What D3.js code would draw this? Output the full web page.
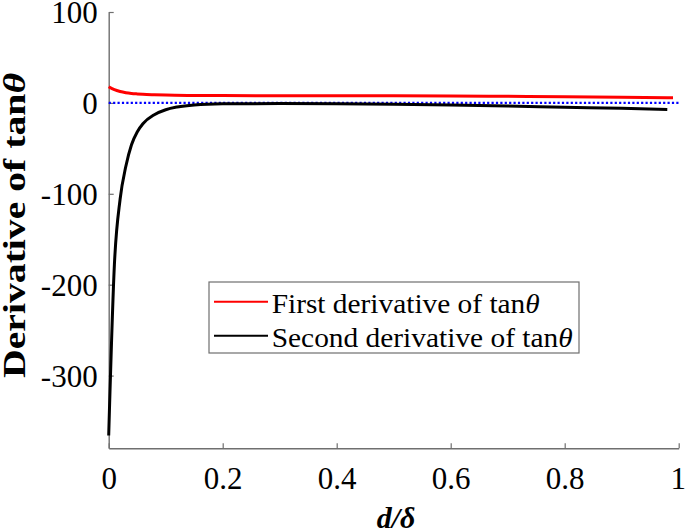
<!DOCTYPE html>
<html><head><meta charset="utf-8">
<script src="https://cdn.jsdelivr.net/npm/d3@7"></script>
<style>body{margin:0;background:#fff}svg{display:block}</style>
</head><body>
<svg id="c" width="685" height="532" font-family="Liberation Serif"></svg>
<script>
const xTicks = [0, 0.2, 0.4, 0.6, 0.8, 1];
const yTicks = [100, 0, -100, -200, -300];
const firstX  = [0, 0.01, 0.02, 0.03, 0.04, 0.05, 0.06, 0.08, 0.1, 0.15, 0.2, 0.3, 0.4, 0.5, 0.6, 0.7, 0.8, 0.9, 0.99];
const firstY  = [17.8, 14.5, 12.5, 11.2, 10.4, 9.9, 9.5, 9.0, 8.6, 8.2, 8.0, 7.9, 7.9, 7.8, 7.6, 7.2, 6.8, 6.3, 5.7];
const secondX = [0, 0.01, 0.02, 0.03, 0.04, 0.05, 0.06, 0.08, 0.1, 0.12, 0.15, 0.2, 0.3, 0.4, 0.5, 0.6, 0.7, 0.8, 0.9, 0.98];
const secondY = [-366, -178, -106, -70, -46, -32, -23, -13, -7.5, -4.5, -2.2, -1, -0.7, -1, -1.6, -2.4, -3.5, -4.8, -6, -7.2];
const zeroX = [0, 1];
const zeroY = [0, 0];
const legendLabels = ["First derivative of tan", "Second derivative of tan"];

const FONT = "Liberation Serif";
const svg = d3.select("#c");
const x = d3.scaleLinear().domain([0, 1]).range([108.7, 678.7]);
const y = d3.scaleLinear().domain([-380, 100]).range([448.3, 12]);
const axisColor = "#6f6f6f";

// axes
const xAxis = svg.append("g").attr("transform", `translate(0,${y(-380)})`)
  .call(d3.axisBottom(x).tickValues(xTicks).tickSizeInner(-5).tickSizeOuter(0).tickPadding(0).tickFormat(d3.format("")));
xAxis.attr("font-family", FONT);
xAxis.select(".domain").attr("stroke", axisColor).attr("stroke-width", 1.4);
xAxis.selectAll(".tick line").attr("stroke", axisColor).attr("stroke-width", 1.2);
xAxis.selectAll(".tick text").attr("font-size", 31).attr("fill", "#000").attr("y", 0).attr("dy", 0)
  .attr("transform", "translate(0,41)");
xAxis.selectAll(".tick").filter(d => d === 1).select("text").attr("transform", "translate(-1,41)");

const yAxis = svg.append("g").attr("transform", `translate(${x(0)},0)`)
  .call(d3.axisLeft(y).tickValues(yTicks).tickSizeInner(-5).tickSizeOuter(0).tickPadding(0).tickFormat(d => d3.format("")(d).replace("−", "-")));
yAxis.attr("font-family", FONT);
yAxis.select(".domain").attr("stroke", axisColor).attr("stroke-width", 1.4);
yAxis.selectAll(".tick line").attr("stroke", axisColor).attr("stroke-width", 1.2);
yAxis.selectAll(".tick text").attr("font-size", 31).attr("fill", "#000").attr("x", -11).attr("dy", "0.35em");

// lines
const line = d3.line().x(d => x(d[0])).y(d => y(d[1])).curve(d3.curveMonotoneX);
svg.append("path").datum(d3.zip(zeroX, zeroY)).attr("d", d3.line().x(d => x(d[0])).y(d => y(d[1])))
  .attr("fill", "none").attr("stroke", "#0000ff").attr("stroke-width", 2.3).attr("stroke-dasharray", "2.2,2.2");
svg.append("path").datum(d3.zip(firstX, firstY)).attr("d", line)
  .attr("fill", "none").attr("stroke", "#ff0000").attr("stroke-width", 3);
svg.append("path").datum(d3.zip(secondX, secondY)).attr("d", line)
  .attr("fill", "none").attr("stroke", "#000").attr("stroke-width", 3);

// legend
const lg = svg.append("g");
lg.append("rect").attr("x", 209).attr("y", 282).attr("width", 370).attr("height", 71)
  .attr("fill", "#fff").attr("stroke", "#6f6f6f").attr("stroke-width", 1.2);
const lColors = ["#ff0000", "#000"];
const lLens = [268, 301];
legendLabels.forEach((lab, i) => {
  const ly = 301.7 + i * 34;
  lg.append("line").attr("x1", 214).attr("x2", 268).attr("y1", ly).attr("y2", ly)
    .attr("stroke", lColors[i]).attr("stroke-width", 2);
  const t = lg.append("text").attr("x", 271.7).attr("y", ly + 11).attr("font-size", 28)
    .attr("font-family", FONT)
    .attr("textLength", lLens[i]).attr("lengthAdjust", "spacingAndGlyphs");
  t.append("tspan").text(lab);
  t.append("tspan").attr("font-style", "italic").text("θ");
});

// axis titles
const yl = svg.append("text").attr("transform", "translate(25,225.5) rotate(-90)")
  .attr("text-anchor", "middle").attr("font-size", 32).attr("font-weight", "bold")
  .attr("font-family", FONT)
  .attr("textLength", 305).attr("lengthAdjust", "spacingAndGlyphs");
yl.append("tspan").text("Derivative of tan");
yl.append("tspan").attr("font-style", "italic").text("θ");

svg.append("text").attr("x", 396).attr("y", 528).attr("text-anchor", "middle")
  .attr("font-family", FONT)
  .attr("font-size", 30).attr("font-weight", "bold").attr("font-style", "italic").text("d/δ");
</script>
</body></html>
